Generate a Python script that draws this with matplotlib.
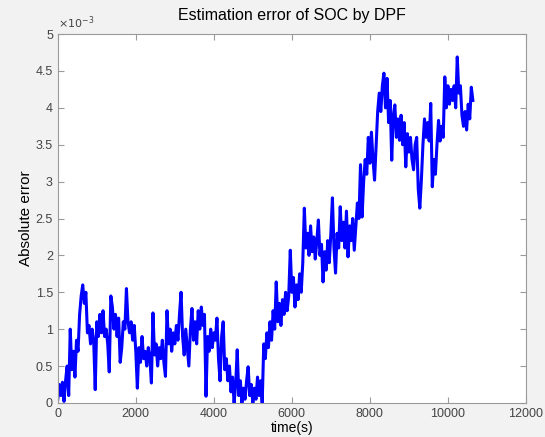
"""Estimation error of SOC by DPF."""
import numpy as np
import matplotlib
matplotlib.use('Agg')
import matplotlib.pyplot as plt
from matplotlib.ticker import FuncFormatter

# absolute error, in units of 1e-3, one value every 40 s
t_step = 40
err_1e3 = [
    0.05, 0.25, 0.1, 0.28, 0.02, 0.3, 0.5, 0.1, 1.0, 0.45,
    0.7, 0.35, 0.85, 0.7, 1.2, 1.45, 1.6, 1.35, 1.5, 0.95,
    1.05, 0.8, 1.0, 0.85, 0.18, 1.1, 0.9, 1.2, 0.95, 1.25,
    0.9, 1.0, 0.8, 0.42, 1.45, 1.3, 1.0, 1.2, 0.9, 1.15,
    0.55, 0.75, 1.1, 1.0, 1.55, 1.1, 0.95, 1.1, 0.85, 1.05,
    0.7, 0.2, 0.75, 0.55, 0.9, 0.6, 0.7, 0.5, 0.75, 0.6,
    0.27, 1.22, 0.65, 0.8, 0.5, 0.75, 0.6, 0.85, 0.55, 0.36,
    1.25, 0.8, 1.0, 0.7, 0.95, 0.8, 1.05, 0.85, 1.2, 1.5,
    0.9, 0.65, 1.0, 0.75, 0.5, 1.0, 1.28, 0.85, 1.1, 0.8,
    1.25, 1.0, 1.3, 1.05, 1.2, 0.09, 0.9, 0.7, 1.0, 0.75,
    0.95, 0.85, 1.15, 0.6, 0.3, 0.9, 1.1, 0.45, 0.6, 0.3,
    0.5, 0.15, 0.35, 0.0, 0.25, 0.72, 0.1, 0.3, 0.0, 0.2,
    0.05, 0.3, 0.49, 0.1, 0.25, 0.0, 0.2, 0.05, 0.35, 0.1,
    0.3, 0.0, 0.8, 0.6, 0.95, 0.75, 1.1, 0.85, 1.25, 1.0,
    1.64, 1.1, 1.35, 1.05, 1.4, 1.2, 1.5, 1.25, 1.45, 2.07,
    1.5, 1.7, 1.3, 1.6, 1.4, 1.75, 1.5, 1.9, 2.64, 2.1,
    2.3, 2.0, 2.4, 2.05, 2.25, 1.95, 2.2, 2.48, 2.0, 2.15,
    1.64, 2.05, 1.8, 2.2, 1.9, 2.3, 2.78, 2.1, 1.76, 2.3,
    2.1, 2.66, 2.2, 2.45, 2.1, 2.6, 1.98, 2.4, 2.2, 2.5,
    2.07, 2.4, 2.71, 2.5, 3.23, 2.52, 3.0, 3.3, 3.1, 3.6,
    3.25, 3.67, 3.3, 3.02, 3.5, 3.95, 4.2, 3.95, 4.3, 4.47,
    4.0, 4.4, 3.8, 4.1, 3.29, 3.9, 4.04, 3.6, 3.85, 3.56,
    3.9, 3.5, 3.8, 3.2, 3.65, 3.4, 3.6, 3.3, 3.16, 3.5,
    3.6, 2.9, 2.64, 3.02, 3.5, 3.85, 3.6, 3.8, 3.55, 4.06,
    2.93, 3.3, 3.1, 3.5, 3.83, 3.55, 3.75, 3.6, 4.42, 4.0,
    4.3, 4.05, 4.25, 4.1, 4.3, 4.0, 4.69, 4.2, 4.3, 3.9,
    3.75, 3.95, 3.7, 4.05, 3.85, 4.28, 4.1,
]

t = np.arange(len(err_1e3)) * t_step
err = np.array(err_1e3) * 1e-3

plt.rcParams['font.family'] = ['Liberation Sans', 'DejaVu Sans']

fig = plt.figure(figsize=(5.45, 4.37), dpi=100, facecolor='#f2f2f2')
ax = fig.add_axes([0.106, 0.078, 0.859, 0.844])
ax.set_facecolor('white')

ax.plot(t, err, color='#0000ff', linewidth=2.2)

ax.set_xlim(0, 12000)
ax.set_ylim(0, 5e-3)
ax.set_xticks(np.arange(0, 12001, 2000))
ax.set_yticks(np.arange(0, 5.01e-3, 0.5e-3))
ax.yaxis.set_major_formatter(FuncFormatter(lambda v, pos: f'{v * 1e3:g}'))
ax.text(0.0, 1.008, r'$\times10^{-3}$', transform=ax.transAxes,
        fontsize=8, color='#444444', ha='left', va='bottom')

for s in ax.spines.values():
    s.set_color('#9a9a9a')
    s.set_linewidth(0.8)
ax.tick_params(direction='in', top=True, right=True, length=4,
               color='#9a9a9a', labelcolor='#444444', labelsize=9)

ax.set_title('Estimation error of SOC by DPF', fontsize=11.5, pad=10)
ax.set_xlabel('time(s)', fontsize=10, labelpad=1)
ax.set_ylabel('Absolute error', fontsize=11, labelpad=2)

fig.savefig('out.png', dpi=100, facecolor=fig.get_facecolor())
